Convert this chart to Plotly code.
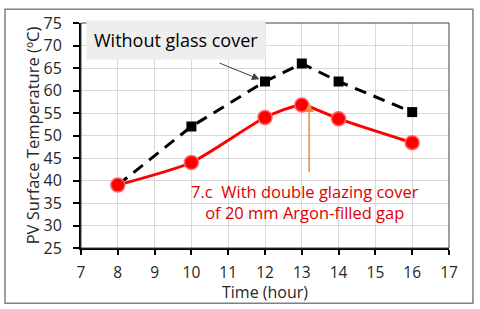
import plotly.graph_objects as go

hours = [8, 10, 12, 13, 14, 16]
without_cover = [39, 52, 62, 66, 62, 55.2]
double_glazing = [39, 44, 54, 56.8, 53.7, 48.4]
x_ticks = list(range(7, 18))
y_ticks = list(range(25, 80, 5))

FONT = "Open Sans"
TXT = "#262626"
fig = go.Figure()
fig.add_trace(go.Scatter(
    x=hours, y=without_cover, mode="lines+markers",
    line=dict(color="black", width=3, dash="12px,8px"),
    marker=dict(symbol="square", size=10, color="black"),
    showlegend=False))
fig.add_trace(go.Scatter(
    x=hours, y=double_glazing, mode="lines+markers",
    line=dict(color="#ff0000", width=3, shape="spline", smoothing=0.6),
    marker=dict(symbol="circle", size=14, color="#ff0000",
                line=dict(color="#ff6666", width=1.5)),
    showlegend=False))

fig.update_xaxes(range=[7, 17], tickvals=x_ticks, showgrid=True, gridcolor="#d9d9d9",
                 gridwidth=1, showline=True, linecolor="black", linewidth=2,
                 ticks="outside", ticklen=5, tickwidth=1.5, tickcolor="black",
                 ticklabelstandoff=4,
                 tickfont=dict(family=FONT, size=15.5, color=TXT),
                 zeroline=False)
fig.update_yaxes(range=[25, 75], tickvals=y_ticks, showgrid=True, gridcolor="#d9d9d9",
                 gridwidth=1, showline=True, linecolor="black", linewidth=2,
                 ticks="outside", ticklen=6, tickwidth=1.5, tickcolor="black",
                 ticklabelstandoff=8,
                 tickfont=dict(family=FONT, size=16, color=TXT),
                 title=dict(text="PV Surface Temperature (ºC)", font=dict(family=FONT, size=16.5, color=TXT), standoff=0),
                 zeroline=False)

fig.add_annotation(x=0.5, y=-0.195, xref="paper", yref="paper", xanchor="center", yanchor="middle",
                   text="Time (hour)", showarrow=False, font=dict(family=FONT, size=16, color=TXT))

fig.add_shape(type="rect", xref="paper", yref="paper", x0=0, y0=0, x1=1, y1=1,
              line=dict(color="#404040", width=1))
fig.add_shape(type="rect", xref="paper", yref="paper", x0=-0.2065, y0=-0.2456, x1=1.065, y1=1.061,
              line=dict(color="#808080", width=1.5))

fig.add_annotation(x=12, y=62, ax=-47, ay=-19, axref="pixel", ayref="pixel",
                   xref="x", yref="y", text="", showarrow=True, arrowhead=2,
                   arrowsize=1.5, arrowwidth=1, arrowcolor="#404040", standoff=6)
fig.add_annotation(x=7.13, y=71.2, xref="x", yref="y", xanchor="left", yanchor="middle",
                   text="Without glass cover", showarrow=False,
                   font=dict(family=FONT, size=18, color="black"),
                   bgcolor="#eeeeee", borderpad=7)
fig.add_annotation(x=13.2, y=57.2, ax=13.2, ay=41.5, xref="x", yref="y", axref="x", ayref="y",
                   text="", showarrow=True, arrowhead=2, arrowsize=1.2, arrowwidth=1.5,
                   arrowcolor="#f08c3c")
fig.add_annotation(x=13.1, y=35.2, xref="x", yref="y", xanchor="center", yanchor="middle",
                   text="7.c  With double glazing cover<br>of 20 mm Argon-filled gap",
                   showarrow=False, align="center",
                   font=dict(family=FONT, size=16.5, color="#e00000"))

fig.update_layout(width=480, height=309, margin=dict(l=81, r=31, t=20, b=61),
                  paper_bgcolor="white", plot_bgcolor="white",
                  font=dict(family=FONT))
fig.write_html("out.html", config={"displayModeBar": False},
               post_script="document.body.style.margin='0';")
